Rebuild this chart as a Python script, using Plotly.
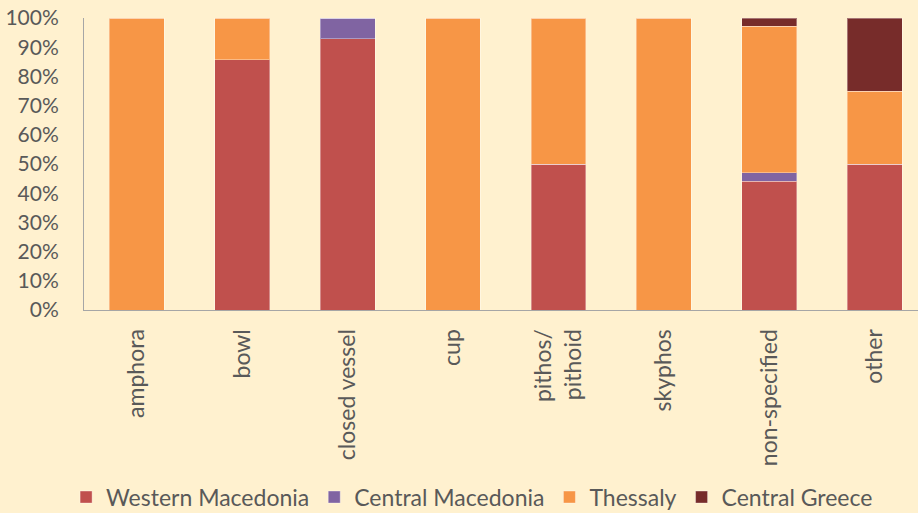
import plotly.graph_objects as go

categories = ["amphora", "bowl", "closed vessel", "cup", "pithos/<br>pithoid",
              "skyphos", "non-specified", "other"]

western_macedonia = [0, 85.7, 92.9, 0, 50, 0, 44.1, 50]
central_macedonia = [0, 0, 7.1, 0, 0, 0, 2.9, 0]
thessaly = [100, 14.3, 0, 100, 50, 100, 50.0, 25]
central_greece = [0, 0, 0, 0, 0, 0, 2.9, 25]

series = [
    ("Western Macedonia", western_macedonia, "#C0504D"),
    ("Central Macedonia", central_macedonia, "#8064A2"),
    ("Thessaly", thessaly, "#F79646"),
    ("Central Greece", central_greece, "#772C2A"),
]

BG = "#FFF1CF"
TXT = "#595959"

fig = go.Figure()
for name, vals, color in series:
    fig.add_trace(
        go.Bar(
            x=categories,
            y=vals,
            name=name,
            marker=dict(color=color, line=dict(color="rgba(255,255,255,0.35)", width=1)),
        )
    )

fig.update_layout(
    width=918,
    height=513,
    barmode="stack",
    barnorm="percent",
    bargap=0.48,
    paper_bgcolor=BG,
    plot_bgcolor=BG,
    font=dict(family="Lato, Open Sans, sans-serif", size=21, color=TXT),
    margin=dict(l=84, r=0, t=18, b=203),
    showlegend=True,
    legend=dict(
        orientation="h",
        xref="container",
        yref="container",
        x=0.072,
        xanchor="left",
        y=0.031,
        yanchor="middle",
        font=dict(size=23, color=TXT),
        itemwidth=30,
        traceorder="normal",
    ),
    xaxis=dict(
        range=[-0.5, 7.41],
        tickangle=-90,
        tickfont=dict(size=23),
        showline=True,
        linecolor="#A6A6A6",
        linewidth=1,
        ticks="outside",
        ticklen=9,
        tickcolor=BG,
        showgrid=False,
    ),
    yaxis=dict(
        range=[0, 100],
        dtick=10,
        ticksuffix="%",
        showline=True,
        linecolor="#A6A6A6",
        linewidth=1,
        ticks="outside",
        ticklen=20,
        tickcolor=BG,
        showgrid=False,
        zeroline=False,
    ),
)

# drop the page's default body margin so the chart fills the window
fig.write_html(
    "out.html",
    config={"displayModeBar": False},
    post_script="document.body.style.margin='0';",
)
